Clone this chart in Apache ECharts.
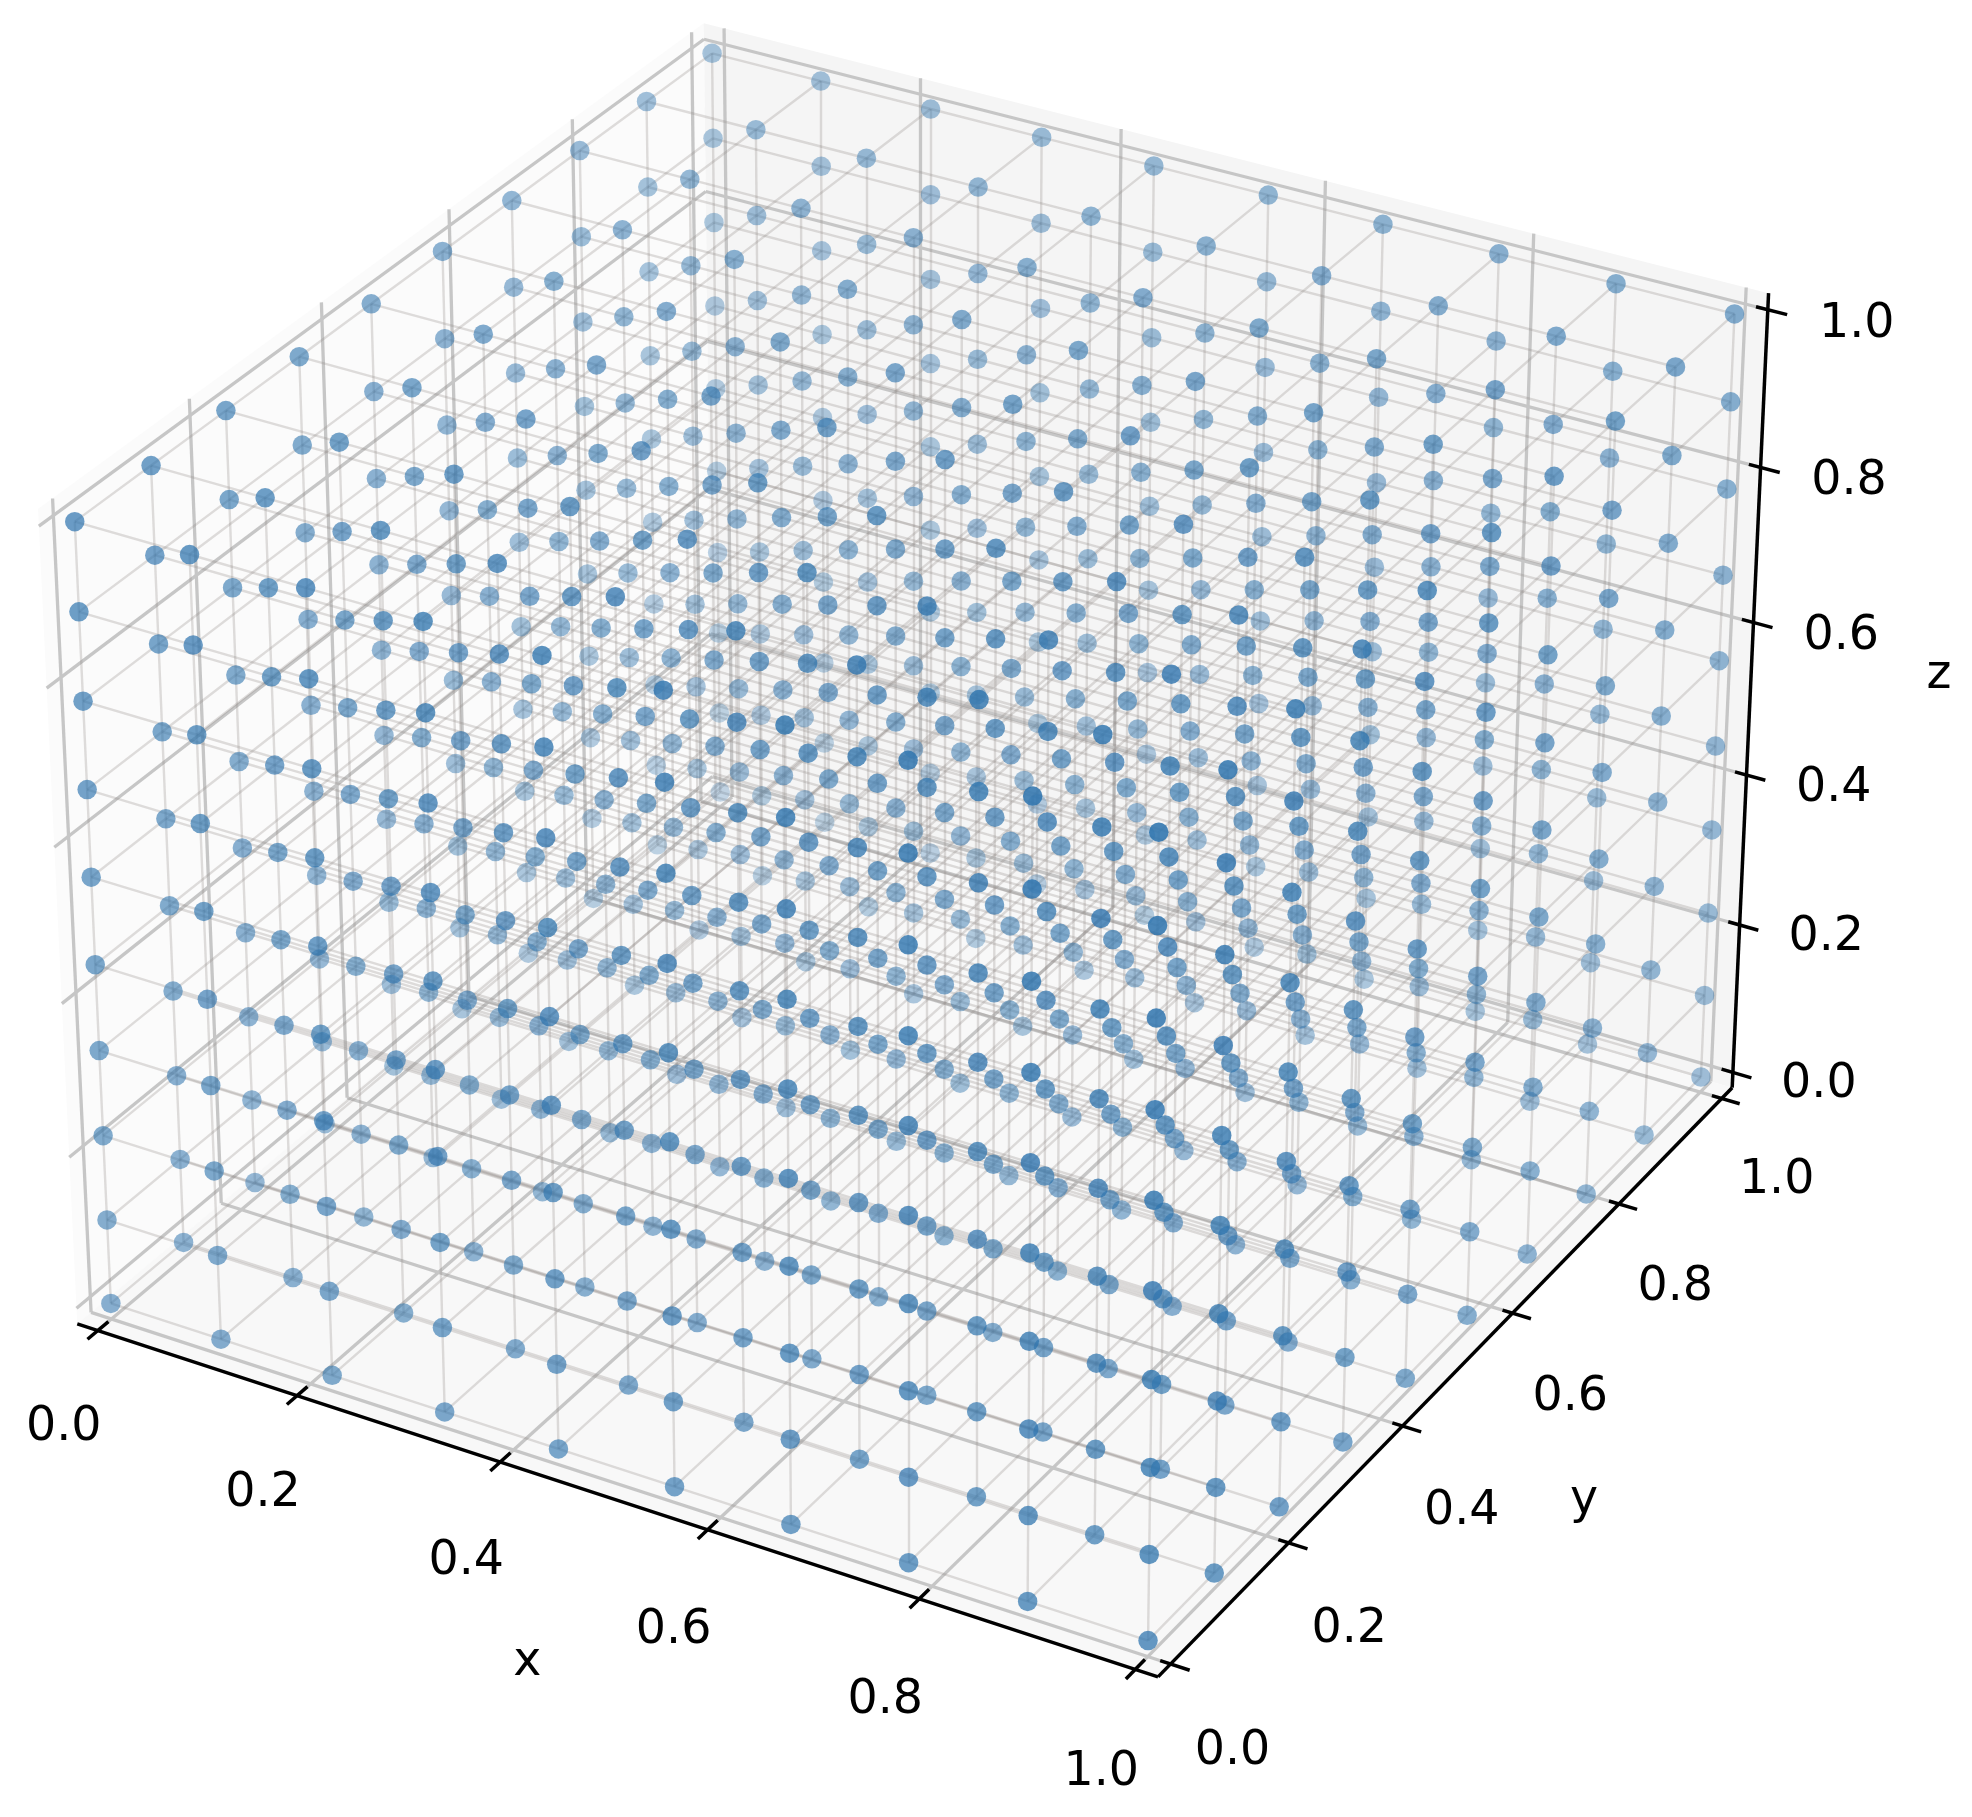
<!DOCTYPE html>
<html>
<head>
<meta charset="utf-8">
<title>3D grid scatter</title>
<script src="https://cdn.jsdelivr.net/npm/echarts@6/dist/echarts.min.js"></script>
<style>
html, body { margin: 0; padding: 0; background: #fff; }
#chart { width: 1972px; height: 1817px; }
</style>
</head>
<body>
<div id="chart"></div>
<script>
// grid positions of the points, same on every axis
var xValues = [0, 0.111, 0.222, 0.333, 0.444, 0.556, 0.667, 0.778, 0.889, 1];
var yValues = [0, 0.111, 0.222, 0.333, 0.444, 0.556, 0.667, 0.778, 0.889, 1];
var zValues = [0, 0.111, 0.222, 0.333, 0.444, 0.556, 0.667, 0.778, 0.889, 1];
var tickValues = [0, 0.2, 0.4, 0.6, 0.8, 1];
var tickLabels = ['0.0', '0.2', '0.4', '0.6', '0.8', '1.0'];

var LOW = -1 / 48, HIGH = 1 + 1 / 48;

// same camera as a default 3d axes: elev 30, azim -60, dist 10
function project(x, y, z) {
    var hx = (x - 0.5) * 8 / 7, hy = (y - 0.5) * 8 / 7, hz = (z - 0.5) * 6 / 7;
    var xc = 0.866025 * hx + 0.5 * hy;
    var yc = -0.25 * hx + 0.433013 * hy + 0.866025 * hz;
    var w = 10 - depth(x, y, z);
    return [920 + 10400 * xc / w, 810.3 - 10400 * yc / w];
}
function depth(x, y, z) {
    var hx = (x - 0.5) * 8 / 7, hy = (y - 0.5) * 8 / 7, hz = (z - 0.5) * 6 / 7;
    return 0.433013 * hx - 0.75 * hy + 0.5 * hz;
}
function seg(a, b) {
    return { coords: [project(a[0], a[1], a[2]), project(b[0], b[1], b[2])] };
}

// points + wire between neighbours
var maxDepth = depth(1, 0, 1), minDepth = depth(0, 1, 0);
var points = [], wire = [];
xValues.forEach(function (x, i) {
    yValues.forEach(function (y, j) {
        zValues.forEach(function (z, k) {
            points.push({ d: depth(x, y, z), value: project(x, y, z) });
            if (i < 9) wire.push(seg([x, y, z], [xValues[i + 1], y, z]));
            if (j < 9) wire.push(seg([x, y, z], [x, yValues[j + 1], z]));
            if (k < 9) wire.push(seg([x, y, z], [x, y, zValues[k + 1]]));
        });
    });
});
// far ones first, near ones get the full colour
points.sort(function (a, b) { return a.d - b.d; });
var scatterData = points.map(function (p) {
    var alpha = 0.88 * (1 - (maxDepth - p.d) / (maxDepth - minDepth) * 0.7);
    return { value: p.value, itemStyle: { opacity: alpha } };
});

// panes: left, back, floor
var panes = [
    { color: '#fbfbfb', corners: [[LOW, LOW, LOW], [LOW, HIGH, LOW], [LOW, HIGH, HIGH], [LOW, LOW, HIGH]] },
    { color: '#f5f5f5', corners: [[LOW, HIGH, LOW], [HIGH, HIGH, LOW], [HIGH, HIGH, HIGH], [LOW, HIGH, HIGH]] },
    { color: '#f8f8f8', corners: [[LOW, LOW, LOW], [HIGH, LOW, LOW], [HIGH, HIGH, LOW], [LOW, HIGH, LOW]] }
];

var gridLines = [], axisLines = [], labels = [];
axisLines.push(seg([LOW, LOW, LOW], [HIGH, LOW, LOW]));
axisLines.push(seg([HIGH, LOW, LOW], [HIGH, HIGH, LOW]));
axisLines.push(seg([HIGH, HIGH, LOW], [HIGH, HIGH, HIGH]));

function addLabel(pos, text) {
    labels.push({ value: [pos[0], pos[1] + 7], text: text });
}
tickValues.forEach(function (t, i) {
    gridLines.push(seg([t, LOW, LOW], [t, HIGH, LOW]));
    gridLines.push(seg([t, HIGH, LOW], [t, HIGH, HIGH]));
    gridLines.push(seg([HIGH, t, LOW], [LOW, t, LOW]));
    gridLines.push(seg([LOW, t, LOW], [LOW, t, HIGH]));
    gridLines.push(seg([LOW, LOW, t], [LOW, HIGH, t]));
    gridLines.push(seg([LOW, HIGH, t], [HIGH, HIGH, t]));

    axisLines.push(seg([t, LOW + 0.016, LOW], [t, LOW - 0.0155, LOW]));
    axisLines.push(seg([HIGH - 0.0095, t, LOW], [HIGH + 0.0175, t, LOW]));
    axisLines.push(seg([HIGH - 0.011, HIGH, t], [HIGH + 0.018, HIGH, t]));

    var px = project(t, LOW, LOW), py = project(HIGH, t, LOW), pz = project(HIGH, HIGH, t);
    addLabel([px[0] - 34, px[1] + 90 + 6 * t], tickLabels[i]);
    addLabel([py[0] + 62 - 7 * t, py[1] + 81 - 6 * t], tickLabels[i]);
    addLabel([pz[0] + 86 + 3 * t, pz[1] + 5 + 3 * t], tickLabels[i]);
});
var midX = project(0.5, LOW, LOW), midY = project(HIGH, 0.5, LOW), midZ = project(HIGH, HIGH, 0.5);
addLabel([midX[0] - 76, midX[1] + 160], 'x');
addLabel([midY[0] + 126, midY[1] + 125], 'y');
addLabel([midZ[0] + 189, midZ[1] - 30], 'z');

var chart = echarts.init(document.getElementById('chart'), null, { renderer: 'canvas' });
chart.setOption({
    animation: false,
    backgroundColor: '#ffffff',
    tooltip: { show: false },
    grid: { left: 0, right: 0, top: 0, bottom: 0 },
    xAxis: { type: 'value', min: 0, max: 1972, show: false },
    yAxis: { type: 'value', min: 0, max: 1817, inverse: true, show: false },
    series: [
        {
            type: 'custom',
            z: 1,
            silent: true,
            data: panes.map(function (p, i) { return [i, 0]; }),
            renderItem: function (params, api) {
                var pane = panes[params.dataIndex];
                return {
                    type: 'polygon',
                    shape: {
                        points: pane.corners.map(function (c) {
                            return api.coord(project(c[0], c[1], c[2]));
                        })
                    },
                    style: { fill: pane.color }
                };
            }
        },
        {
            type: 'lines',
            coordinateSystem: 'cartesian2d',
            z: 2,
            silent: true,
            lineStyle: { color: '#c6c6c6', width: 3.3, opacity: 1, curveness: 0 },
            data: gridLines
        },
        {
            type: 'lines',
            coordinateSystem: 'cartesian2d',
            z: 3,
            silent: true,
            lineStyle: { color: '#000000', width: 3.5, opacity: 1, curveness: 0 },
            data: axisLines
        },
        {
            type: 'lines',
            coordinateSystem: 'cartesian2d',
            z: 4,
            silent: true,
            lineStyle: { color: '#8f8a85', width: 2.4, opacity: 0.28, curveness: 0 },
            data: wire
        },
        {
            type: 'scatter',
            z: 5,
            silent: true,
            symbol: 'circle',
            symbolSize: 19.5,
            large: false,
            progressive: 0,
            itemStyle: { color: '#2e74ae' },
            data: scatterData
        },
        {
            type: 'custom',
            z: 6,
            silent: true,
            data: labels.map(function (l) { return l.value; }),
            renderItem: function (params, api) {
                var p = api.coord([api.value(0), api.value(1)]);
                return {
                    type: 'text',
                    style: {
                        text: labels[params.dataIndex].text,
                        x: p[0],
                        y: p[1],
                        fill: '#000000',
                        font: '47.5px "DejaVu Sans"',
                        align: 'center',
                        verticalAlign: 'middle'
                    }
                };
            }
        }
    ]
});
window.addEventListener('resize', function () { chart.resize(); });
</script>
</body>
</html>
